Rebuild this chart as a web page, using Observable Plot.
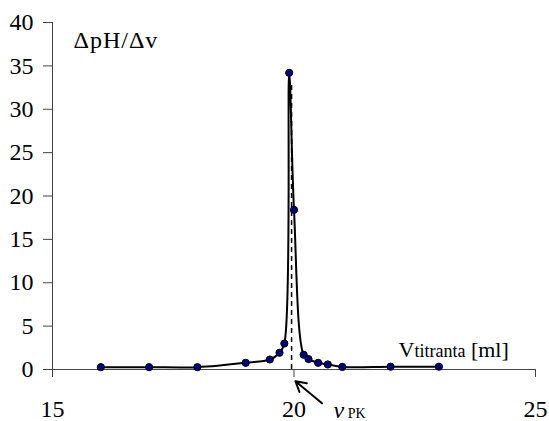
<!DOCTYPE html>
<html>
<head>
<meta charset="utf-8">
<script src="https://cdn.jsdelivr.net/npm/d3@7"></script>
<script src="https://cdn.jsdelivr.net/npm/@observablehq/plot@0.6"></script>
<style>
  html, body { margin: 0; padding: 0; background: white; }
</style>
</head>
<body>
<div id="chart"></div>
<script>
// Data
const volume = [16, 17, 18, 19, 19.5, 19.7, 19.8, 19.9, 20.0, 20.2, 20.3, 20.5, 20.7, 21, 22, 23];
const dpHdv  = [0.27, 0.27, 0.27, 0.77, 1.15, 1.93, 3.0, 34.2, 18.4, 1.7, 1.2, 0.77, 0.58, 0.3, 0.32, 0.32];
const xTicks = [15, 20, 25];
const yTicks = [0, 5, 10, 15, 20, 25, 30, 35, 40];
const vpk = 19.95;
const yTitle = "ΔpH/Δv";
const xTitleParts = ["V", "titranta", " [ml]"];
const vpkParts = ["v", " PK"];
const arrowFrom = [20.58, -3.9];
const arrowTo = [20.03, -1.35];

const data = volume.map((v, i) => ({v, d: dpHdv[i]}));
const peak = d3.max(dpHdv);
const axisColor = "#444";
const serif = "'Liberation Serif', 'Times New Roman', serif";

const chart = Plot.plot({
  width: 549,
  height: 421,
  marginLeft: 52,
  marginRight: 14,
  marginTop: 22,
  marginBottom: 52,
  style: {fontFamily: serif, fontSize: "24px", color: "black", background: "white", overflow: "visible"},
  x: {domain: [15, 25]},
  y: {domain: [0, 40]},
  marks: [
    Plot.axisY({ticks: yTicks, tickSize: 9, tickPadding: 10, label: null, stroke: axisColor, fill: "black", fontSize: 24}),
    Plot.axisX({ticks: xTicks, tickSize: 8, tickPadding: 22, label: null, stroke: axisColor, fill: "black", fontSize: 24}),
    Plot.ruleX([15], {stroke: axisColor}),
    Plot.ruleY([0], {stroke: axisColor}),
    Plot.ruleX([vpk], {y1: 0, y2: peak, insetBottom: -9, stroke: "black", strokeWidth: 1.5, strokeDasharray: "5,4"}),
    Plot.line(data, {x: "v", y: "d", curve: "catmull-rom", stroke: "black", strokeWidth: 2}),
    Plot.dot(data, {x: "v", y: "d", r: 3.6, fill: "#000080", stroke: "black", strokeWidth: 1}),
    Plot.arrow([{}], {x1: arrowFrom[0], y1: arrowFrom[1], x2: arrowTo[0], y2: arrowTo[1], stroke: "black", strokeWidth: 2, headLength: 11}),
    Plot.text([yTitle], {text: d => d, frameAnchor: "top-left", dx: 21, dy: 25, textAnchor: "start", lineAnchor: "bottom", fontSize: 24, fill: "black", className: "ytitle"}),
    Plot.text([xTitleParts.join("")], {text: d => d, frameAnchor: "bottom-left", dx: 346, dy: -13, textAnchor: "start", lineAnchor: "bottom", fontSize: 22, fill: "black", className: "xtitle"}),
    Plot.text([vpkParts.join("")], {text: d => d, frameAnchor: "bottom-left", dx: 281, dy: 48, textAnchor: "start", lineAnchor: "bottom", fontSize: 22, fill: "black", className: "vpk"})
  ]
});

d3.select(chart).select("g.ytitle text").style("letter-spacing", "1px");

// rich text: subscript-like smaller parts
const xt = d3.select(chart).select("g.xtitle text");
xt.text(null);
xt.append("tspan").attr("font-size", 22).text(xTitleParts[0]);
xt.append("tspan").attr("font-size", 18).text(xTitleParts[1]);
xt.append("tspan").attr("font-size", 22).text(xTitleParts[2]);

const vt = d3.select(chart).select("g.vpk text");
vt.text(null);
vt.append("tspan").attr("font-size", 24).attr("font-style", "italic").text(vpkParts[0]);
vt.append("tspan").attr("font-size", 14).text(vpkParts[1]);

document.getElementById("chart").appendChild(chart);
</script>
</body>
</html>
